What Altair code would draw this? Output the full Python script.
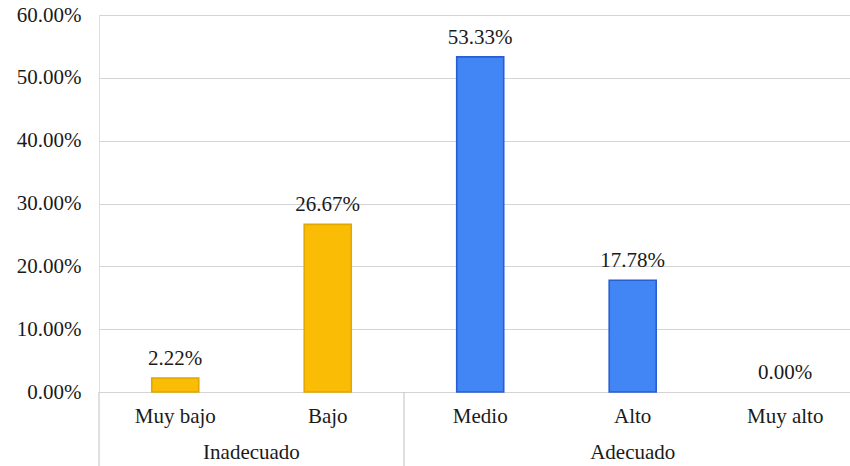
import altair as alt
import pandas as pd

categorias = ["Muy bajo", "Bajo", "Medio", "Alto", "Muy alto"]
grupos = ["Inadecuado", "Inadecuado", "Adecuado", "Adecuado", "Adecuado"]
valores = [0.0222, 0.2667, 0.5333, 0.1778, 0.0000]
etiquetas = ["2.22%", "26.67%", "53.33%", "17.78%", "0.00%"]
grupo_nombres = ["Inadecuado", "Adecuado"]

df = pd.DataFrame({
    "idx": list(range(len(categorias))),
    "categoria": categorias,
    "grupo": grupos,
    "valor": valores,
    "etiqueta": etiquetas,
})

# group spans derived from data
gdf = df.groupby("grupo", sort=False)["idx"].agg(["min", "max"]).reset_index()
gdf["centro"] = (gdf["min"] + gdf["max"]) / 2
gdf["borde"] = gdf["min"] - 0.5

FONT = "Liberation Serif"
FS = 21
TXT = "#1a1a1a"

xscale = alt.Scale(domain=[-0.5, 4.425], nice=False, zero=False, padding=0)
yscale = alt.Scale(domain=[0, 0.6], nice=False, padding=0)

base = alt.Chart(df)

bars = base.transform_filter("datum.valor > 0").mark_bar(size=47, strokeWidth=1.6).encode(
    x=alt.X("idx:Q", scale=xscale, axis=None),
    y=alt.Y("valor:Q", scale=yscale,
            axis=alt.Axis(values=[0, 0.1, 0.2, 0.3, 0.4, 0.5, 0.6], format=".2%",
                          title=None, domain=False, ticks=False, labelPadding=18,
                          labelFont=FONT, labelFontSize=FS, labelColor=TXT,
                          gridColor="#d4d4d4", gridWidth=1)),
    fill=alt.Fill("grupo:N", scale=alt.Scale(domain=grupo_nombres, range=["#FBBC05", "#4285F4"]), legend=None),
    stroke=alt.Stroke("grupo:N", scale=alt.Scale(domain=grupo_nombres, range=["#E0A800", "#2A5DD0"]), legend=None),
)

labels = base.mark_text(font=FONT, fontSize=FS, color=TXT, baseline="alphabetic", dy=-13).encode(
    x=alt.X("idx:Q", scale=xscale),
    y=alt.Y("valor:Q", scale=yscale),
    text="etiqueta:N",
)

cat_labels = base.mark_text(font=FONT, fontSize=FS, color=TXT, baseline="middle").encode(
    x=alt.X("idx:Q", scale=xscale),
    y=alt.value(402),
    text="categoria:N",
)

gbase = alt.Chart(gdf)
grp_labels = gbase.mark_text(font=FONT, fontSize=FS, color=TXT, baseline="middle").encode(
    x=alt.X("centro:Q", scale=xscale),
    y=alt.value(438),
    text="grupo:N",
)

seps = gbase.mark_rule(color="#c0c0c0", strokeWidth=1).encode(
    x=alt.X("borde:Q", scale=xscale),
    y=alt.value(377),
    y2=alt.value(451),
)

chart = alt.layer(bars, labels, cat_labels, grp_labels, seps).properties(
    width=751, height=377,
    autosize=alt.AutoSizeParams(type="none"),
    padding={"left": 99, "top": 15, "right": 0, "bottom": 74},
).configure_view(stroke=None).configure(background="white")

chart.save("out.html", embed_options={"renderer": "svg", "actions": False})
